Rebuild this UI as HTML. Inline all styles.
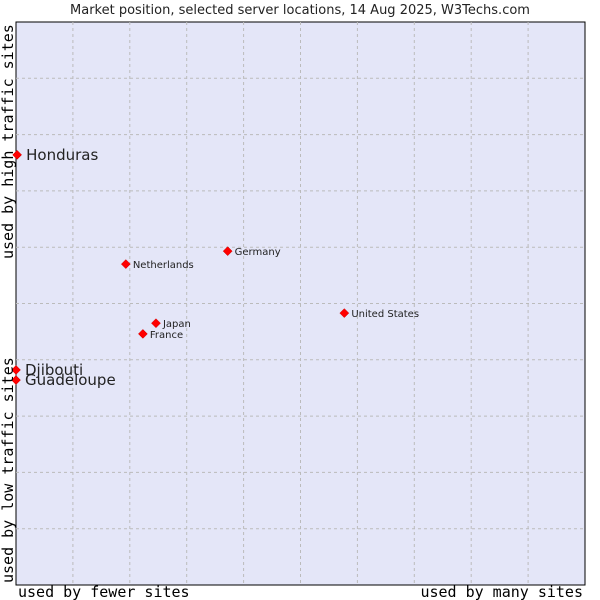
<!DOCTYPE html>
<html><head><meta charset="utf-8"><style>
body{margin:0;background:#fff;width:600px;height:600px;overflow:hidden}
svg{display:block}
text{font-family:"DejaVu Sans","Liberation Sans",sans-serif;fill:#222}
.mono{font-family:"DejaVu Sans Mono","Liberation Mono",monospace;font-size:15px;fill:#000}
</style></head><body>
<svg id="chart" width="600" height="600">
<text x="300" y="14" text-anchor="middle" font-size="13">Market position, selected server locations, 14 Aug 2025, W3Techs.com</text>
<rect x="16" y="22" width="569" height="563" fill="#e4e6f8" stroke="#000" stroke-width="1"/>
<g id="grid"></g>
<g id="points"></g>
<text class="mono" x="18" y="597">used by fewer sites</text>
<text class="mono" x="583" y="597" text-anchor="end">used by many sites</text>
<text class="mono" transform="translate(13,583) rotate(-90)">used by low traffic sites</text>
<text class="mono" transform="translate(13,259) rotate(-90)">used by high traffic sites</text>
</svg>
<script>
const names=["Honduras","Djibouti","Guadeloupe","Netherlands","Germany","Japan","France","United States"];
const xVals=[0.2,0,0,19.3,37.2,24.6,22.3,57.7];
const yVals=[76.4,38.2,36.4,57.0,59.3,46.5,44.6,48.3];
const big=[true,true,true,false,false,false,false,false];
const L=16,T=22,W=569,H=563;
const xs=v=>L+v/100*W, ys=v=>T+H-v/100*H;
const NS="http://www.w3.org/2000/svg";
const g=document.getElementById('grid');
for(let i=1;i<10;i++){
 const a=document.createElementNS(NS,'line');
 a.setAttribute('x1',xs(i*10));a.setAttribute('x2',xs(i*10));a.setAttribute('y1',T);a.setAttribute('y2',T+H);
 a.setAttribute('stroke','#bbb');a.setAttribute('stroke-dasharray','3,3');
 
 
 g.appendChild(a);
 const b=document.createElementNS(NS,'line');
 b.setAttribute('y1',ys(i*10));b.setAttribute('y2',ys(i*10));b.setAttribute('x1',L);b.setAttribute('x2',L+W);
 b.setAttribute('stroke','#bbb');b.setAttribute('stroke-dasharray','3,3');
 
 
 g.appendChild(b);
}
const p=document.getElementById('points');
names.forEach((n,i)=>{
 const x=xs(xVals[i]),y=ys(yVals[i]);
 const d=document.createElementNS(NS,'path');
 d.setAttribute('d',`M${x-4.5},${y}L${x},${y-4.5}L${x+4.5},${y}L${x},${y+4.5}Z`);
 d.setAttribute('fill','#f00');d.setAttribute('stroke','#c00');d.setAttribute('stroke-width','0.5');
 
 
 p.appendChild(d);
 const t=document.createElementNS(NS,'text');
 t.setAttribute('x',x+(big[i]?9:7));t.setAttribute('y',y+(big[i]?5:4));
 t.setAttribute('font-size',big[i]?'15':'10');
 t.textContent=n;
 
 
 p.appendChild(t);
});
</script>
</body></html>
